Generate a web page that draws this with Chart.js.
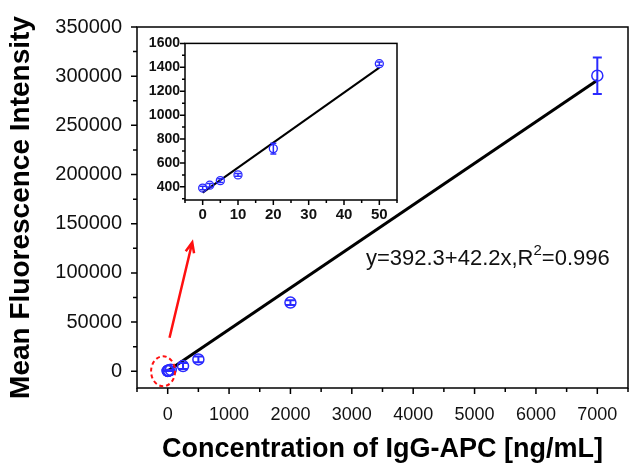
<!DOCTYPE html>
<html>
<head>
<meta charset="utf-8">
<script src="https://cdn.jsdelivr.net/npm/chart.js@4.4.1/dist/chart.umd.min.js"></script>
<style>
  html, body { margin: 0; padding: 0; background: #fff; }
  #wrap { position: relative; width: 635px; height: 466px; }
  #mainChart { position: absolute; left: 0; top: 0; }
  #insetChart { position: absolute; left: 130px; top: 30px; }
</style>
</head>
<body>
<div id="wrap">
  <canvas id="mainChart" width="635" height="466"></canvas>
  <canvas id="insetChart" width="275" height="200"></canvas>
</div>
<script>
// datos
const concentration = [0, 2, 5, 10, 20, 50, 250, 500, 2000, 7000];
const intensity = [390, 414, 452, 500, 720, 1430, 5300, 12100, 69800, 300500];
const errorBar = [15, 15, 15, 12, 45, 15, 3000, 3000, 2500, 18500];

// puntos del recuadro (0 - 50 ng/mL)
const insetConcentration = concentration.slice(0, 6);
const insetIntensity = intensity.slice(0, 6);
const insetError = errorBar.slice(0, 6);

// ajustes lineales
const fitIntercept = 392.3;
const fitSlope = 42.2;
const fitRange = [0, 7000];
const insetIntercept = 352;
const insetSlope = 20.9;
const insetRange = [0, 50];

// etiquetas de los ejes
const xTickLabels = [0, 1000, 2000, 3000, 4000, 5000, 6000, 7000];
const yTickLabels = [0, 50000, 100000, 150000, 200000, 250000, 300000, 350000];
const insetXTickLabels = [0, 10, 20, 30, 40, 50];
const insetYTickLabels = [400, 600, 800, 1000, 1200, 1400, 1600];

const FONT = "'Liberation Sans', Arial, sans-serif";
const BLUE = '#2a2aff';

function toPoints(xs, ys) {
    return xs.map((x, i) => ({ x: x, y: ys[i] }));
}

function fitLine(range, a, b) {
    return range.map(x => ({ x: x, y: a + b * x }));
}

// marcas cada "step" a partir de "from" hasta el maximo de la escala
function stepTicks(from, step) {
    return function (scale) {
        const ticks = [];
        for (let v = from; v <= scale.max + 1e-9; v += step) ticks.push({ value: v });
        scale.ticks = ticks;
    };
}

// alto fijo del eje x, sin relleno lateral
function fixHeight(h) {
    return function (s) {
        s.height = h;
        s.paddingLeft = 0;
        s.paddingRight = 0;
    };
}

// barras de error verticales
const errorBars = {
    id: 'errorBars',
    afterDatasetsDraw(chart, args, opts) {
        const ctx = chart.ctx;
        const yScale = chart.scales.y;
        chart.data.datasets.forEach((ds, di) => {
            if (!ds.errors) return;
            const meta = chart.getDatasetMeta(di);
            ctx.save();
            ctx.strokeStyle = ds.borderColor;
            ctx.lineWidth = opts.width;
            meta.data.forEach((el, i) => {
                const v = ds.data[i].y;
                const top = yScale.getPixelForValue(v + ds.errors[i]);
                const bottom = yScale.getPixelForValue(v - ds.errors[i]);
                ctx.beginPath();
                ctx.moveTo(el.x, top);
                ctx.lineTo(el.x, bottom);
                ctx.moveTo(el.x - opts.cap, top);
                ctx.lineTo(el.x + opts.cap, top);
                ctx.moveTo(el.x - opts.cap, bottom);
                ctx.lineTo(el.x + opts.cap, bottom);
                ctx.stroke();
            });
            ctx.restore();
        });
    }
};

// marco y marcas de los ejes (mayores y menores)
const frameTicks = {
    id: 'frameTicks',
    afterDraw(chart, args, opts) {
        const ctx = chart.ctx;
        const area = chart.chartArea;
        const xs = chart.scales.x;
        const ys = chart.scales.y;
        ctx.save();
        ctx.strokeStyle = '#000';
        ctx.lineWidth = opts.width;
        ctx.strokeRect(area.left, area.top, area.right - area.left, area.bottom - area.top);
        ctx.beginPath();
        xs.ticks.forEach(t => {
            if (t.value % opts.xMinor !== 0) return;
            const len = t.value % opts.xMajor === 0 ? opts.major : opts.minor;
            const px = xs.getPixelForValue(t.value);
            ctx.moveTo(px, area.bottom);
            ctx.lineTo(px, area.bottom + len);
        });
        ys.ticks.forEach(t => {
            if (t.value % opts.yMinor !== 0) return;
            const len = t.value % opts.yMajor === 0 ? opts.major : opts.minor;
            const py = ys.getPixelForValue(t.value);
            ctx.moveTo(area.left, py);
            ctx.lineTo(area.left - len, py);
        });
        ctx.stroke();
        ctx.restore();
    }
};

// circulo rojo, flecha y ecuacion del ajuste
const annotations = {
    id: 'annotations',
    afterDraw(chart) {
        const ctx = chart.ctx;
        const xs = chart.scales.x;
        const ys = chart.scales.y;
        ctx.save();
        ctx.strokeStyle = '#ff1010';
        ctx.lineWidth = 2;
        ctx.setLineDash([4, 3]);
        ctx.beginPath();
        ctx.ellipse(xs.getPixelForValue(-75), ys.getPixelForValue(0), 12, 15, 0, 0, Math.PI * 2);
        ctx.stroke();
        ctx.setLineDash([]);

        const x1 = xs.getPixelForValue(30), y1 = ys.getPixelForValue(34000);
        const x2 = xs.getPixelForValue(400), y2 = ys.getPixelForValue(131000);
        const ang = Math.atan2(y2 - y1, x2 - x1);
        ctx.lineWidth = 2.5;
        ctx.beginPath();
        ctx.moveTo(x1, y1);
        ctx.lineTo(x2, y2);
        ctx.moveTo(x2 - 11 * Math.cos(ang - 0.4), y2 - 11 * Math.sin(ang - 0.4));
        ctx.lineTo(x2, y2);
        ctx.lineTo(x2 - 11 * Math.cos(ang + 0.4), y2 - 11 * Math.sin(ang + 0.4));
        ctx.stroke();

        // y=392.3+42.2x,R²=0.996
        let tx = xs.getPixelForValue(3230);
        const ty = ys.getPixelForValue(114000);
        ctx.fillStyle = '#111';
        ctx.textBaseline = 'middle';
        ctx.textAlign = 'left';
        const eqA = 'y=' + fitIntercept + '+' + fitSlope + 'x,R';
        ctx.font = '22px ' + FONT;
        ctx.fillText(eqA, tx, ty);
        tx += ctx.measureText(eqA).width;
        ctx.font = '15px ' + FONT;
        ctx.fillText('2', tx, ty - 8);
        tx += ctx.measureText('2').width;
        ctx.font = '22px ' + FONT;
        ctx.fillText('=0.996', tx, ty);
        ctx.restore();
    }
};

const mainCtx = document.getElementById('mainChart').getContext('2d');
const mainChart = new Chart(mainCtx, {
    type: 'scatter',
    data: {
        datasets: [{
            label: 'MFI',
            data: toPoints(concentration, intensity),
            errors: errorBar,
            borderColor: BLUE,
            backgroundColor: 'rgba(255,255,255,0)',
            pointRadius: 5.5,
            pointBorderWidth: 1.5,
            order: 1
        }, {
            label: 'ajuste',
            data: fitLine(fitRange, fitIntercept, fitSlope),
            showLine: true,
            borderColor: '#000',
            borderWidth: 3,
            pointRadius: 0,
            order: 2
        }]
    },
    options: {
        responsive: false,
        animation: false,
        layout: { padding: { top: 25, right: 2, left: 0, bottom: 0 } },
        plugins: {
            legend: { display: false },
            tooltip: { enabled: false },
            errorBars: { width: 2, cap: 4.5 },
            frameTicks: { width: 1.5, major: 6, minor: 4, xMinor: 500, xMajor: 1000, yMinor: 25000, yMajor: 50000 }
        },
        scales: {
            x: {
                type: 'linear',
                min: -500,
                max: 7500,
                afterFit: fixHeight(78),
                afterBuildTicks: stepTicks(-500, 500),
                border: { display: false },
                grid: { display: false, drawTicks: false },
                ticks: {
                    autoSkip: false,
                    maxRotation: 0,
                    padding: 16,
                    color: '#111',
                    font: { family: FONT, size: 18 },
                    callback: v => xTickLabels.includes(v) ? String(v) : ''
                },
                title: {
                    display: true,
                    text: 'Concentration of IgG-APC [ng/mL]',
                    color: '#000',
                    padding: { top: 0, bottom: 0 },
                    font: { family: FONT, size: 27, weight: 'bold', lineHeight: 1.2 }
                }
            },
            y: {
                type: 'linear',
                min: -17000,
                max: 350000,
                afterFit: s => { s.width = 137; },
                afterBuildTicks: stepTicks(0, 25000),
                border: { display: false },
                grid: { display: false, drawTicks: false },
                ticks: {
                    autoSkip: false,
                    padding: 15,
                    color: '#111',
                    font: { family: FONT, size: 20 },
                    callback: v => yTickLabels.includes(v) ? String(v) : ''
                },
                title: {
                    display: true,
                    text: 'Mean Fluorescence Intensity',
                    color: '#000',
                    padding: { top: 4, bottom: 0 },
                    font: { family: FONT, size: 28, weight: 'bold', lineHeight: 1.2 }
                }
            }
        }
    },
    plugins: [errorBars, frameTicks, annotations]
});

const insetCtx = document.getElementById('insetChart').getContext('2d');
const insetChart = new Chart(insetCtx, {
    type: 'scatter',
    data: {
        datasets: [{
            label: 'MFI 0-50',
            data: toPoints(insetConcentration, insetIntensity),
            errors: insetError,
            borderColor: BLUE,
            backgroundColor: 'rgba(255,255,255,0)',
            pointRadius: 4,
            pointBorderWidth: 1.3,
            order: 1
        }, {
            label: 'ajuste 0-50',
            data: fitLine(insetRange, insetIntercept, insetSlope),
            showLine: true,
            borderColor: '#000',
            borderWidth: 2,
            pointRadius: 0,
            order: 2
        }]
    },
    options: {
        responsive: false,
        animation: false,
        layout: { padding: { top: 13, right: 8, left: 0, bottom: 0 } },
        plugins: {
            legend: { display: false },
            tooltip: { enabled: false },
            errorBars: { width: 1.5, cap: 3 },
            frameTicks: { width: 1.5, major: 5, minor: 3, xMinor: 5, xMajor: 10, yMinor: 100, yMajor: 200 }
        },
        scales: {
            x: {
                type: 'linear',
                min: -5,
                max: 55,
                afterFit: fixHeight(30),
                afterBuildTicks: stepTicks(-5, 5),
                border: { display: false },
                grid: { display: false, drawTicks: false },
                ticks: {
                    autoSkip: false,
                    maxRotation: 0,
                    padding: 6,
                    color: '#111',
                    font: { family: FONT, size: 15, weight: 'bold' },
                    callback: v => insetXTickLabels.includes(v) ? String(v) : ''
                }
            },
            y: {
                type: 'linear',
                min: 290,
                max: 1600,
                afterFit: s => { s.width = 55; },
                afterBuildTicks: stepTicks(300, 100),
                border: { display: false },
                grid: { display: false, drawTicks: false },
                ticks: {
                    autoSkip: false,
                    padding: 5,
                    color: '#111',
                    font: { family: FONT, size: 14, weight: 'bold' },
                    callback: v => insetYTickLabels.includes(v) ? String(v) : ''
                }
            }
        }
    },
    plugins: [errorBars, frameTicks]
});
</script>
</body>
</html>
